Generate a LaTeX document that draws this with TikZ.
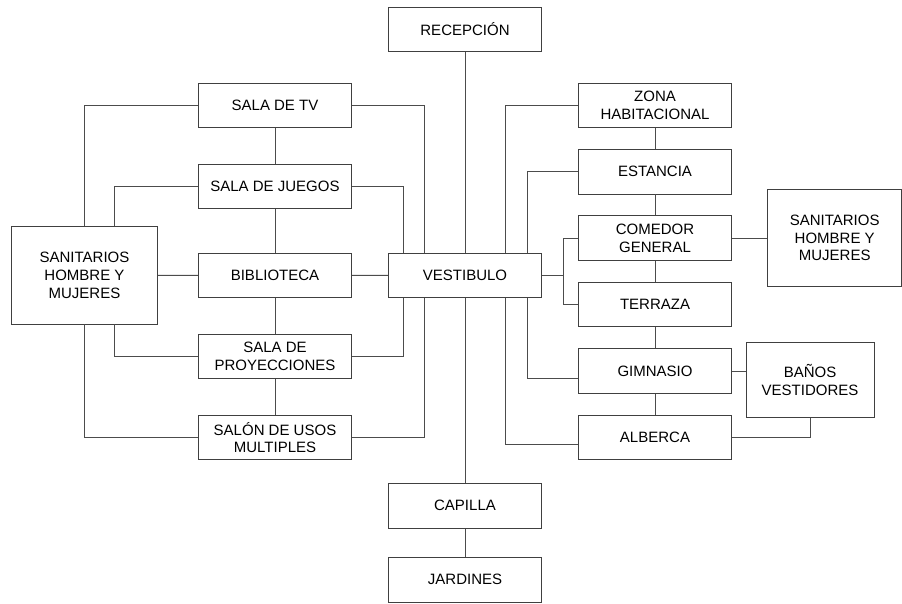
\documentclass[tikz,border=0pt]{standalone}
\usepackage{fontspec}
\setmainfont{Liberation Sans}
\usetikzlibrary{positioning}

\tikzset{
  area/.style={draw=black!75, line width=0.9pt, fill=white, align=center,
    minimum width=153, minimum height=44.5, inner sep=0pt,
    font=\fontsize{15}{17.7}\selectfont},
  wc/.style={area, minimum width=145.6, minimum height=97.3},
  link/.style={draw=black!70, line width=0.9pt}
}

\begin{document}
\begin{tikzpicture}[x=1pt, y=-1pt]
  \useasboundingbox (0,0) rectangle (902,603);
  % Eje central
  \node[area] (rec)      at (465, 29.3)  {RECEPCIÓN};
  \node[area] (vest)     at (465, 275.3) {VESTIBULO};
  \node[area] (capilla)  at (465, 505.8) {CAPILLA};
  \node[area] (jardines) at (465, 579.8) {JARDINES};
  % Ala izquierda
  \node[area] (tv)     at (275, 105.3) {SALA DE TV};
  \node[area] (juegos) at (275, 186.3) {SALA DE JUEGOS};
  \node[area] (biblio) at (275, 275.5) {BIBLIOTECA};
  \node[area] (proy)   at (275, 356.3) {SALA DE\\PROYECCIONES};
  \node[area] (salon)  at (275, 437.5) {SALÓN DE USOS\\MULTIPLES};
  \node[wc]   (sanL)   at (84.5, 275.3) {SANITARIOS\\HOMBRE Y\\MUJERES};
  % Ala derecha
  \node[area] (zona)     at (655, 105.3) {ZONA\\HABITACIONAL};
  \node[area] (estancia) at (655, 171.7) {ESTANCIA};
  \node[area] (comedor)  at (655, 238)   {COMEDOR\\GENERAL};
  \node[area] (terraza)  at (655, 304.5) {TERRAZA};
  \node[area] (gim)      at (655, 371)   {GIMNASIO};
  \node[area] (alberca)  at (655, 437.2) {ALBERCA};
  \node[wc, minimum width=134] (sanR) at (834.7, 238) {SANITARIOS\\HOMBRE Y\\MUJERES};
  \node[area, minimum width=128, minimum height=74.6] (banos) at (810, 380) {BAÑOS\\VESTIDORES};

  % Conexiones del eje central
  \draw[link] (rec) -- (vest);
  \draw[link] (vest) -- (capilla);
  \draw[link] (capilla) -- (jardines);

  % Conexiones izquierda
  \draw[link] (tv) -- (juegos);
  \draw[link] (juegos) -- (biblio);
  \draw[link] (biblio) -- (proy);
  \draw[link] (proy) -- (salon);
  \draw[link] (sanL) -- (biblio);
  \draw[link] (biblio) -- (vest);
  \draw[link] (tv.east) -| ([xshift=-41]vest.north);
  \draw[link] (juegos.east) -| ([xshift=-62]vest.north);
  \draw[link] (proy.east) -| ([xshift=-62]vest.south);
  \draw[link] (salon.east) -| ([xshift=-41]vest.south);
  \draw[link] (tv.west) -| (sanL.north);
  \draw[link] (juegos.west) -| ([xshift=29.5]sanL.north);
  \draw[link] (proy.west) -| ([xshift=29.5]sanL.south);
  \draw[link] (salon.west) -| (sanL.south);

  % Conexiones derecha
  \draw[link] (zona) -- (estancia);
  \draw[link] (estancia) -- (comedor);
  \draw[link] (comedor) -- (terraza);
  \draw[link] (terraza) -- (gim);
  \draw[link] (gim) -- (alberca);
  \draw[link] (zona.west) -| ([xshift=40]vest.north);
  \draw[link] (estancia.west) -| ([xshift=62]vest.north);
  \draw[link] ([yshift=-7]gim.west) -| ([xshift=62]vest.south);
  \draw[link] ([yshift=-7]alberca.west) -| ([xshift=40]vest.south);
  \coordinate (cj) at ([xshift=-15]comedor.west);
  \draw[link] (vest.east) -- (cj |- vest.east);
  \draw[link] (comedor.west) -- (cj) |- (terraza.west);
  \draw[link] (comedor) -- (sanR);
  \draw[link] (gim.east) -- (gim.east -| banos.west);
  \draw[link] (alberca.east) -| (banos.south);
\end{tikzpicture}
\end{document}
